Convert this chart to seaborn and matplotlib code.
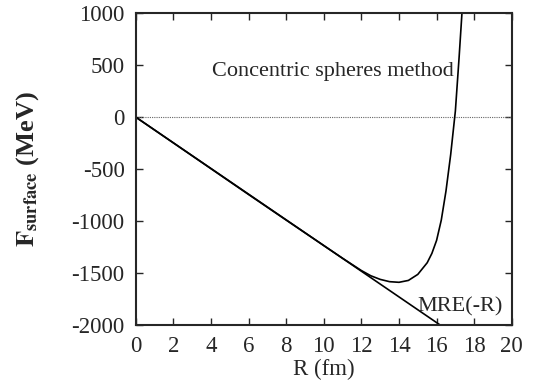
import numpy as np
import pandas as pd
import matplotlib
matplotlib.use("Agg")
import matplotlib.pyplot as plt
import seaborn as sns

# concentric spheres curve
r_cs = [0, 2, 4, 6, 8, 10, 11, 12, 12.5, 13, 13.5, 14, 14.5, 15, 15.5, 15.75, 16, 16.25,
        16.5, 16.75, 17, 17.2, 17.35]
f_cs = [0, -248, -496, -744, -990, -1235, -1357, -1475, -1525, -1560, -1582, -1588, -1570,
        -1512, -1400, -1310, -1185, -990, -710, -360, 60, 580, 1000]

# MRE(-R) straight line
r_mre = [0, 16.2]
f_mre = [0, -2000]

sns.set_theme(style="ticks")
plt.rcParams['font.family'] = ['Liberation Serif', 'DejaVu Serif']
plt.rcParams['mathtext.fontset'] = 'stix'
plt.rcParams['axes.unicode_minus'] = False

fig, ax = plt.subplots(figsize=(5.37, 3.88), dpi=100)
fig.subplots_adjust(left=0.253, right=0.953, top=0.966, bottom=0.162)

ax.axhline(0, color='#666666', lw=0.8, ls=(0, (1, 1)))
sns.lineplot(x=r_cs, y=f_cs, ax=ax, color='black', lw=1.2)
sns.lineplot(x=r_mre, y=f_mre, ax=ax, color='black', lw=1.2)

ax.set_xlim(0, 20)
ax.set_ylim(-2000, 1000)
ax.set_xticks(np.arange(0, 21, 2))
ax.set_yticks(np.arange(-2000, 1001, 500))
ax.tick_params(direction='in', top=True, right=True, labelsize=16.5, length=5, width=1, pad=8)
for s in ax.spines.values():
    s.set_linewidth(1.5)

ax.set_xlabel('R (fm)', fontsize=16.5, labelpad=1)
ax.set_ylabel(r'$\mathbf{F_{surface}}$ (MeV)', fontsize=19, fontweight='bold', labelpad=22)

ax.text(0.202, 0.80, 'Concentric spheres method', transform=ax.transAxes, fontsize=16)
ax.text(0.75, 0.045, 'MRE(-R)', transform=ax.transAxes, fontsize=16)

fig.savefig('out.png', dpi=100)
